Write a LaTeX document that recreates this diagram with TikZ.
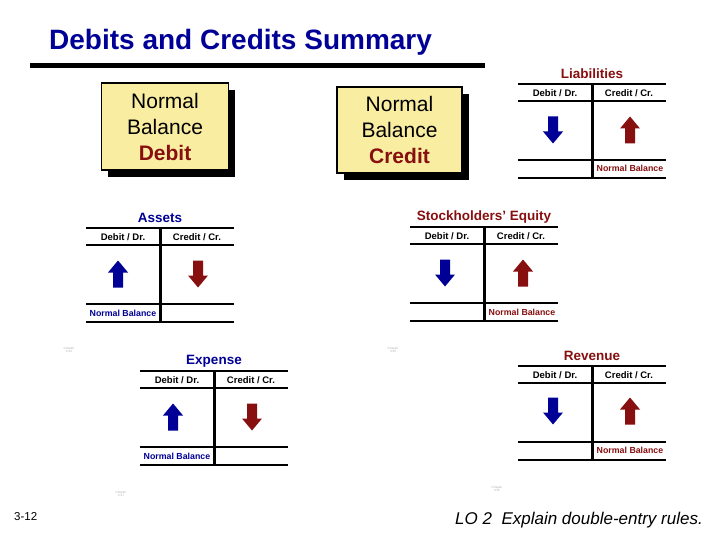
\documentclass[tikz,border=0pt]{standalone}
\usepackage{fontspec}
\setmainfont{Liberation Sans}
\usepackage{tikz}
\usetikzlibrary{positioning,shadows,calc}
\usepackage{xcolor}
\definecolor{dkblue}{RGB}{0,0,150}
\definecolor{dkred}{RGB}{135,15,15}
\definecolor{paleyel}{RGB}{249,237,162}
\tikzset{
  tline/.style={line width=2pt},
  tbar/.style={line width=3pt},
  accttitle/.style={font=\fontsize{13.5}{16}\selectfont\bfseries, inner sep=0pt},
  colhead/.style={font=\fontsize{9.5}{11}\selectfont\bfseries, inner sep=0pt},
  nbal/.style={font=\fontsize{8.8}{10}\selectfont\bfseries, inner sep=0pt},
  nbbox/.style={draw, line width=1.2pt, fill=paleyel, inner sep=0pt, align=center,
    font=\fontsize{21}{26}\selectfont,
    drop shadow={shadow xshift=6.5pt, shadow yshift=-7.5pt, fill=black, opacity=1}},
  chaplbl/.style={font=\fontsize{3}{3.4}\selectfont, text=gray!60, align=center, inner sep=0pt},
}
% T-account frame: name, x, y (top left), title, title colour
\newcommand{\tacct}[5]{%
  \coordinate (#1) at (#2,#3);
  \draw[tline] (#1) -- ++(148,0);
  \draw[tline] ($(#1)+(0,17)$) -- ++(148,0);
  \draw[tline] ($(#1)+(0,76)$) -- ++(148,0);
  \draw[tline] ($(#1)+(0,94)$) -- ++(148,0);
  \draw[tbar] ($(#1)+(74,0)$) -- ++(0,94);
  \node[accttitle,text=#5] (#1-title) at ($(#1)+(74,-10)$) {#4};
  \node[colhead] (#1-dr) at ($(#1)+(37,9)$) {Debit / Dr.};
  \node[colhead] (#1-cr) at ($(#1)+(111,9)$) {Credit / Cr.};
}
% block arrow: x, y (centre), 1 = up / -1 = down, colour
\newcommand{\balarrow}[4]{%
  \fill[#4] (#1,#2-13.5*#3) -- (#1+10,#2-1.5*#3) -- (#1+5,#2-1.5*#3)
    -- (#1+5,#2+13.5*#3) -- (#1-5,#2+13.5*#3) -- (#1-5,#2-1.5*#3)
    -- (#1-10,#2-1.5*#3) -- cycle;
}

\begin{document}
\begin{tikzpicture}[x=1pt,y=-1pt]
\useasboundingbox[fill=white] (0,0) rectangle (720,540);

% heading
\node[anchor=west,inner sep=0pt,text=dkblue,font=\fontsize{28}{32}\selectfont\bfseries]
  (title) at (49,42) {Debits and Credits Summary};
\draw[line width=5pt] (30,66) -- (485,66);

% normal balance boxes
\node[nbbox,minimum width=127pt,minimum height=87pt] (nbdebit) at (165,126.5)
  {Normal\\Balance\\{\color{dkred}\bfseries Debit}};
\node[nbbox,minimum width=125pt,minimum height=86pt] (nbcredit) at (399.5,130)
  {Normal\\Balance\\{\color{dkred}\bfseries Credit}};

% accounts
\tacct{liab}{518}{84}{Liabilities}{dkred}
\balarrow{553}{130}{-1}{dkblue}
\balarrow{630}{130}{1}{dkred}
\node[nbal,text=dkred] (liab-nb) at (630,168.5) {Normal Balance};

\tacct{assets}{86}{228}{Assets}{dkblue}
\balarrow{118}{274}{1}{dkblue}
\balarrow{198}{274}{-1}{dkred}
\node[nbal,text=dkblue] (assets-nb) at (123,313) {Normal Balance};

\tacct{equity}{410}{227}{Stockholders’ Equity}{dkred}
\balarrow{445}{273}{-1}{dkblue}
\balarrow{523}{273}{1}{dkred}
\node[nbal,text=dkred] (equity-nb) at (522,312.5) {Normal Balance};

\tacct{expense}{140}{371}{Expense}{dkblue}
\balarrow{173}{417}{1}{dkblue}
\balarrow{252}{417}{-1}{dkred}
\node[nbal,text=dkblue] (expense-nb) at (177,456.5) {Normal Balance};

\tacct{revenue}{518}{366}{Revenue}{dkred}
\balarrow{553}{411}{-1}{dkblue}
\balarrow{630}{411}{1}{dkred}
\node[nbal,text=dkred] (revenue-nb) at (630,450.5) {Normal Balance};

% stray slide labels
\node[chaplbl] (ch33) at (69,350) {Chapter\\3-33};
\node[chaplbl] (ch35) at (393,350) {Chapter\\3-35};
\node[chaplbl] (ch37) at (121,494) {Chapter\\3-37};
\node[chaplbl] (ch36) at (497,489) {Chapter\\3-36};

% footer
\node[anchor=west,inner sep=0pt,font=\fontsize{11.5}{13}\selectfont] (slideno) at (14,517) {3-12};
\node[anchor=east,inner sep=0pt,font=\fontsize{17}{20}\selectfont\itshape] (lo) at (703,520)
  {LO 2\ \ Explain double-entry rules.};
\end{tikzpicture}
\end{document}
